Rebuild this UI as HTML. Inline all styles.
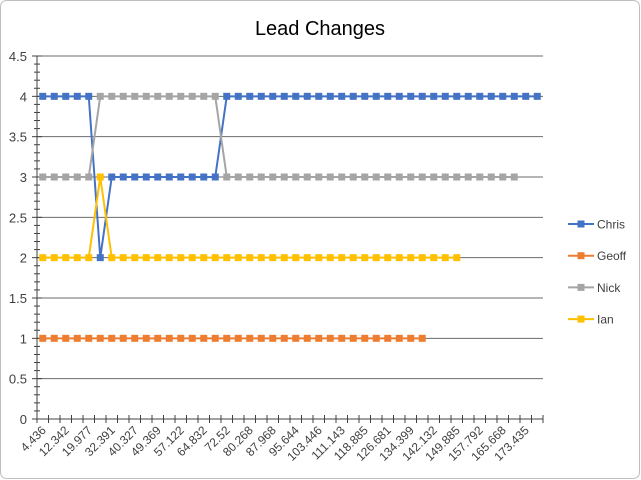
<!DOCTYPE html>
<html><head><meta charset="utf-8"><style>
html,body{margin:0;padding:0;background:#fff}
svg{display:block;font-family:"Liberation Sans",sans-serif}
</style></head><body>
<svg id="chart" width="641" height="480">
<rect x="0.5" y="0.5" width="639" height="478" rx="6" fill="#fff" stroke="#bfbfbf"/>
<text x="320" y="35" text-anchor="middle" font-size="20" fill="#000">Lead Changes</text>
<g id="grid"></g><g id="axes"></g><g id="series"></g><g id="legend"></g>
</svg>
<script>
const categories=["4.436","8.3","12.342","16.1","19.977","26.2","32.391","36.4","40.327","44.8","49.369","53.2","57.122","61.0","64.832","68.7","72.52","76.4","80.268","84.1","87.968","91.8","95.644","99.5","103.446","107.3","111.143","115.0","118.885","122.8","126.681","130.5","134.399","138.3","142.132","146.0","149.885","153.8","157.792","161.7","165.668","169.5","173.435","177.3"];
const chrisValues=[4,4,4,4,4,2,3,3,3,3,3,3,3,3,3,3,4,4,4,4,4,4,4,4,4,4,4,4,4,4,4,4,4,4,4,4,4,4,4,4,4,4,4,4];
const geoffValues=[1,1,1,1,1,1,1,1,1,1,1,1,1,1,1,1,1,1,1,1,1,1,1,1,1,1,1,1,1,1,1,1,1,1];
const nickValues=[3,3,3,3,3,4,4,4,4,4,4,4,4,4,4,4,3,3,3,3,3,3,3,3,3,3,3,3,3,3,3,3,3,3,3,3,3,3,3,3,3,3];
const ianValues=[2,2,2,2,2,3,2,2,2,2,2,2,2,2,2,2,2,2,2,2,2,2,2,2,2,2,2,2,2,2,2,2,2,2,2,2,2];
const yTicks=[0,0.5,1,1.5,2,2.5,3,3.5,4,4.5];
const seriesNames=["Chris","Geoff","Nick","Ian"];
const seriesColors=["#4472C4","#ED7D31","#A5A5A5","#FFC000"];
const L=37,R=543,T=56,B=419,yMax=4.5;
const NS="http://www.w3.org/2000/svg";
const step=(R-L)/categories.length;
const xs=i=>L+step*(i+0.5);
const ys=v=>B-(v/yMax)*(B-T);
function mk(tag,attrs,parent){const e=document.createElementNS(NS,tag);for(const k in attrs)e.setAttribute(k,attrs[k]);parent.appendChild(e);return e;}
const grid=document.getElementById('grid'),axes=document.getElementById('axes'),ser=document.getElementById('series'),leg=document.getElementById('legend');
yTicks.forEach(v=>{
  if(v>0){const g=mk('line',{x1:L,x2:R,y1:ys(v),y2:ys(v),stroke:'#6b6b6b','stroke-width':1},grid);
  
  }
  const t=mk('text',{x:L-10,y:ys(v)+5,'text-anchor':'end','font-size':13,fill:'#404040'},axes);
  
  
  t.textContent=v;
});
const ya=mk('line',{x1:L,x2:L,y1:T,y2:B,stroke:'#404040'},axes);


for(let k=0;k<=45;k++){const v=k*0.1;const major=k%5===0;
  const tk=mk('line',{x1:L-(major?5:3),x2:L+(major?5:3),y1:ys(v),y2:ys(v),stroke:'#404040'},axes);
  
  }
const xa=mk('line',{x1:L,x2:R,y1:B,y2:B,stroke:'#404040'},axes);


for(let i=0;i<=categories.length;i++){
  const tk=mk('line',{x1:L+step*i,x2:L+step*i,y1:B-4,y2:B+4,stroke:'#404040'},axes);
  
  }
categories.forEach((c,i)=>{if(i%2)return;
  const x=xs(i)+4,y=B+12;
  const t=mk('text',{x:x,y:y,'text-anchor':'end','font-size':12,fill:'#404040',transform:`rotate(-45 ${x} ${y})`},axes);
  
  
  t.textContent=c;});
[chrisValues,geoffValues,nickValues,ianValues].forEach((vals,s)=>{
  const g=mk('g',{},ser);
  
  
  const p=mk('polyline',{points:vals.map((v,i)=>xs(i)+','+ys(v)).join(' '),fill:'none',stroke:seriesColors[s],'stroke-width':2},g);
  
  
  vals.forEach((v,i)=>{const r=mk('rect',{x:xs(i)-3.5,y:ys(v)-3.5,width:7,height:7,fill:seriesColors[s]},g);
    
    });
});
seriesNames.forEach((n,s)=>{const y=224+s*31.7;
  const g=mk('g',{},leg);
  
  
  mk('line',{x1:568,x2:594,y1:y,y2:y,stroke:seriesColors[s],'stroke-width':2},g);
  mk('rect',{x:577.5,y:y-3.5,width:7,height:7,fill:seriesColors[s]},g);
  const t=mk('text',{x:597,y:y+4.5,'font-size':12,fill:'#404040'},g);
  t.textContent=n;});
</script>
</body></html>
